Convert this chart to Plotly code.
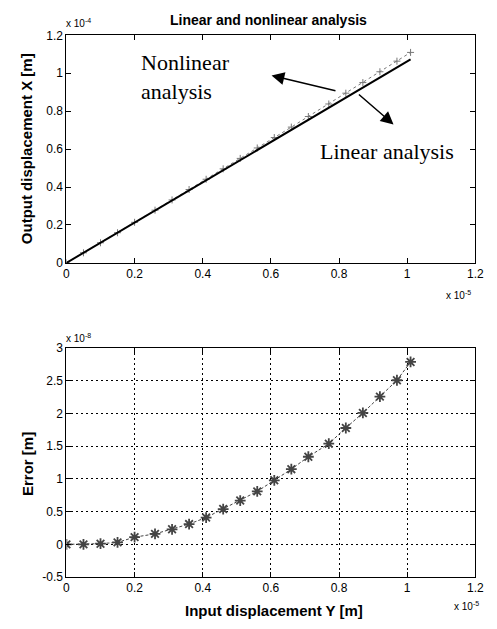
import plotly.graph_objects as go

# ---- data (x in 1e-5 m, top y in 1e-4 m, error in 1e-8 m) ----
input_disp = [0, 0.05, 0.10, 0.15, 0.20, 0.26, 0.31, 0.36, 0.41, 0.46, 0.51,
              0.56, 0.61, 0.66, 0.71, 0.77, 0.82, 0.87, 0.92, 0.97, 1.01]
linear_out = [0, 0.053, 0.106, 0.159, 0.2125, 0.276, 0.329, 0.3825, 0.436, 0.489, 0.542,
              0.595, 0.648, 0.701, 0.754, 0.818, 0.871, 0.924, 0.978, 1.031, 1.073]
nonlinear_out = [0, 0.053, 0.106, 0.159, 0.214, 0.278, 0.332, 0.387, 0.441, 0.496, 0.551,
                 0.606, 0.661, 0.716, 0.772, 0.838, 0.895, 0.951, 1.008, 1.064, 1.110]
error_vals = [0, 0, 0.01, 0.03, 0.11, 0.16, 0.23, 0.31, 0.41, 0.54, 0.67,
              0.81, 0.98, 1.15, 1.34, 1.54, 1.78, 2.01, 2.26, 2.51, 2.79]

tick_x = [0, 0.2, 0.4, 0.6, 0.8, 1.0, 1.2]
tick_x_text = ["0", "0.2", "0.4", "0.6", "0.8", "1", "1.2"]
tick_y1 = [0, 0.2, 0.4, 0.6, 0.8, 1.0, 1.2]
tick_y1_text = ["0", "0.2", "0.4", "0.6", "0.8", "1", "1.2"]
tick_y2 = [-0.5, 0, 0.5, 1, 1.5, 2, 2.5, 3]
tick_y2_text = ["-0.5", "0", "0.5", "1", "1.5", "2", "2.5", "3"]

W, H = 497, 629
SANS = "Liberation Sans, Arial, sans-serif"
SERIF = "Liberation Serif, Times New Roman, serif"

def px(x):
    return x / W

def py(y):
    return 1 - y / H

fig = go.Figure()

# top plot
fig.add_trace(go.Scatter(x=input_disp, y=nonlinear_out, mode="lines+markers",
                         line=dict(color="#777777", width=1, dash="dot"),
                         marker=dict(symbol="cross-thin-open", size=5,
                                     line=dict(color="#444444", width=1)),
                         xaxis="x", yaxis="y", showlegend=False))
fig.add_trace(go.Scatter(x=input_disp, y=linear_out, mode="lines",
                         line=dict(color="black", width=2),
                         xaxis="x", yaxis="y", showlegend=False))

# bottom plot
fig.add_trace(go.Scatter(x=input_disp, y=error_vals, mode="lines+markers",
                         line=dict(color="#444444", width=1, dash="3px,2px"),
                         marker=dict(symbol="asterisk-open", size=9,
                                     line=dict(color="black", width=1.8)),
                         xaxis="x2", yaxis="y2", showlegend=False))

axis_common = dict(showline=True, linecolor="black", linewidth=1, mirror="ticks",
                   ticks="inside", ticklen=5, tickcolor="black", tickwidth=1,
                   tickfont=dict(family=SANS, size=12, color="black"),
                   zeroline=False)

xd = [65 / W, 484 / W]
fig.update_layout(
    width=W, height=H, autosize=False,
    margin=dict(l=0, r=0, t=0, b=0),
    paper_bgcolor="white", plot_bgcolor="white",
    xaxis=dict(domain=xd, range=[0, 1.2], tickvals=tick_x, ticktext=tick_x_text,
               showgrid=False, anchor="y", **axis_common),
    yaxis=dict(domain=[(H - 261.7) / H, (H - 29) / H], range=[0, 1.2],
               tickvals=tick_y1, ticktext=tick_y1_text, showgrid=False,
               anchor="x", **axis_common),
    xaxis2=dict(domain=xd, range=[0, 1.2], tickvals=tick_x, ticktext=tick_x_text,
                showgrid=True, gridcolor="black", gridwidth=1, griddash="2px,3px",
                anchor="y2", **axis_common),
    yaxis2=dict(domain=[(H - 583) / H, (H - 349) / H], range=[-0.5, 3],
                tickvals=tick_y2, ticktext=tick_y2_text, showgrid=True,
                gridcolor="black", gridwidth=1, griddash="2px,3px",
                anchor="x2", **axis_common),
)

def txt(text, x, y, size, family=SANS, xa="center", ya="middle", angle=0, align="center"):
    return dict(text=text, x=px(x), y=py(y), xref="paper", yref="paper",
                showarrow=False, xanchor=xa, yanchor=ya, textangle=angle, align=align,
                font=dict(family=family, size=size, color="black"))

ann = [
    txt("<b>Linear and nonlinear analysis</b>", 272, 13.4, 14),
    txt("<b>Output displacement X [m]</b>", 24, 145, 15, angle=-90),
    txt("<b>Error [m]</b>", 25, 467, 15, angle=-90),
    txt("<b>Input displacement Y [m]</b>", 278, 617, 15),
    # exponent labels
    txt("x 10<sup>-4</sup>", 63, 25, 10, xa="left", ya="bottom"),
    txt("x 10<sup>-8</sup>", 63, 347, 10, xa="left", ya="bottom"),
    txt("x 10<sup>-5</sup>", 452, 303, 10, xa="left", ya="bottom"),
    txt("x 10<sup>-5</sup>", 460, 621, 10, xa="left", ya="bottom"),
    # text callouts
    txt("Nonlinear<br>analysis", 139, 72, 22, family=SERIF, xa="left", align="left"),
    txt("Linear analysis", 394, 147.6, 22, family=SERIF),
]
# arrows (data coordinates of the top plot)
ann.append(dict(text="", x=0.602, y=0.988, ax=0.794, ay=0.906, xref="x", yref="y",
                axref="x", ayref="y", showarrow=True, arrowhead=2, arrowsize=1.7,
                arrowwidth=1.5, arrowcolor="black"))
ann.append(dict(text="", x=0.960, y=0.730, ax=0.854, ay=0.895, xref="x", yref="y",
                axref="x", ayref="y", showarrow=True, arrowhead=2, arrowsize=1.7,
                arrowwidth=1.5, arrowcolor="black"))

fig.update_layout(annotations=ann)
fig.write_html("out.html")
